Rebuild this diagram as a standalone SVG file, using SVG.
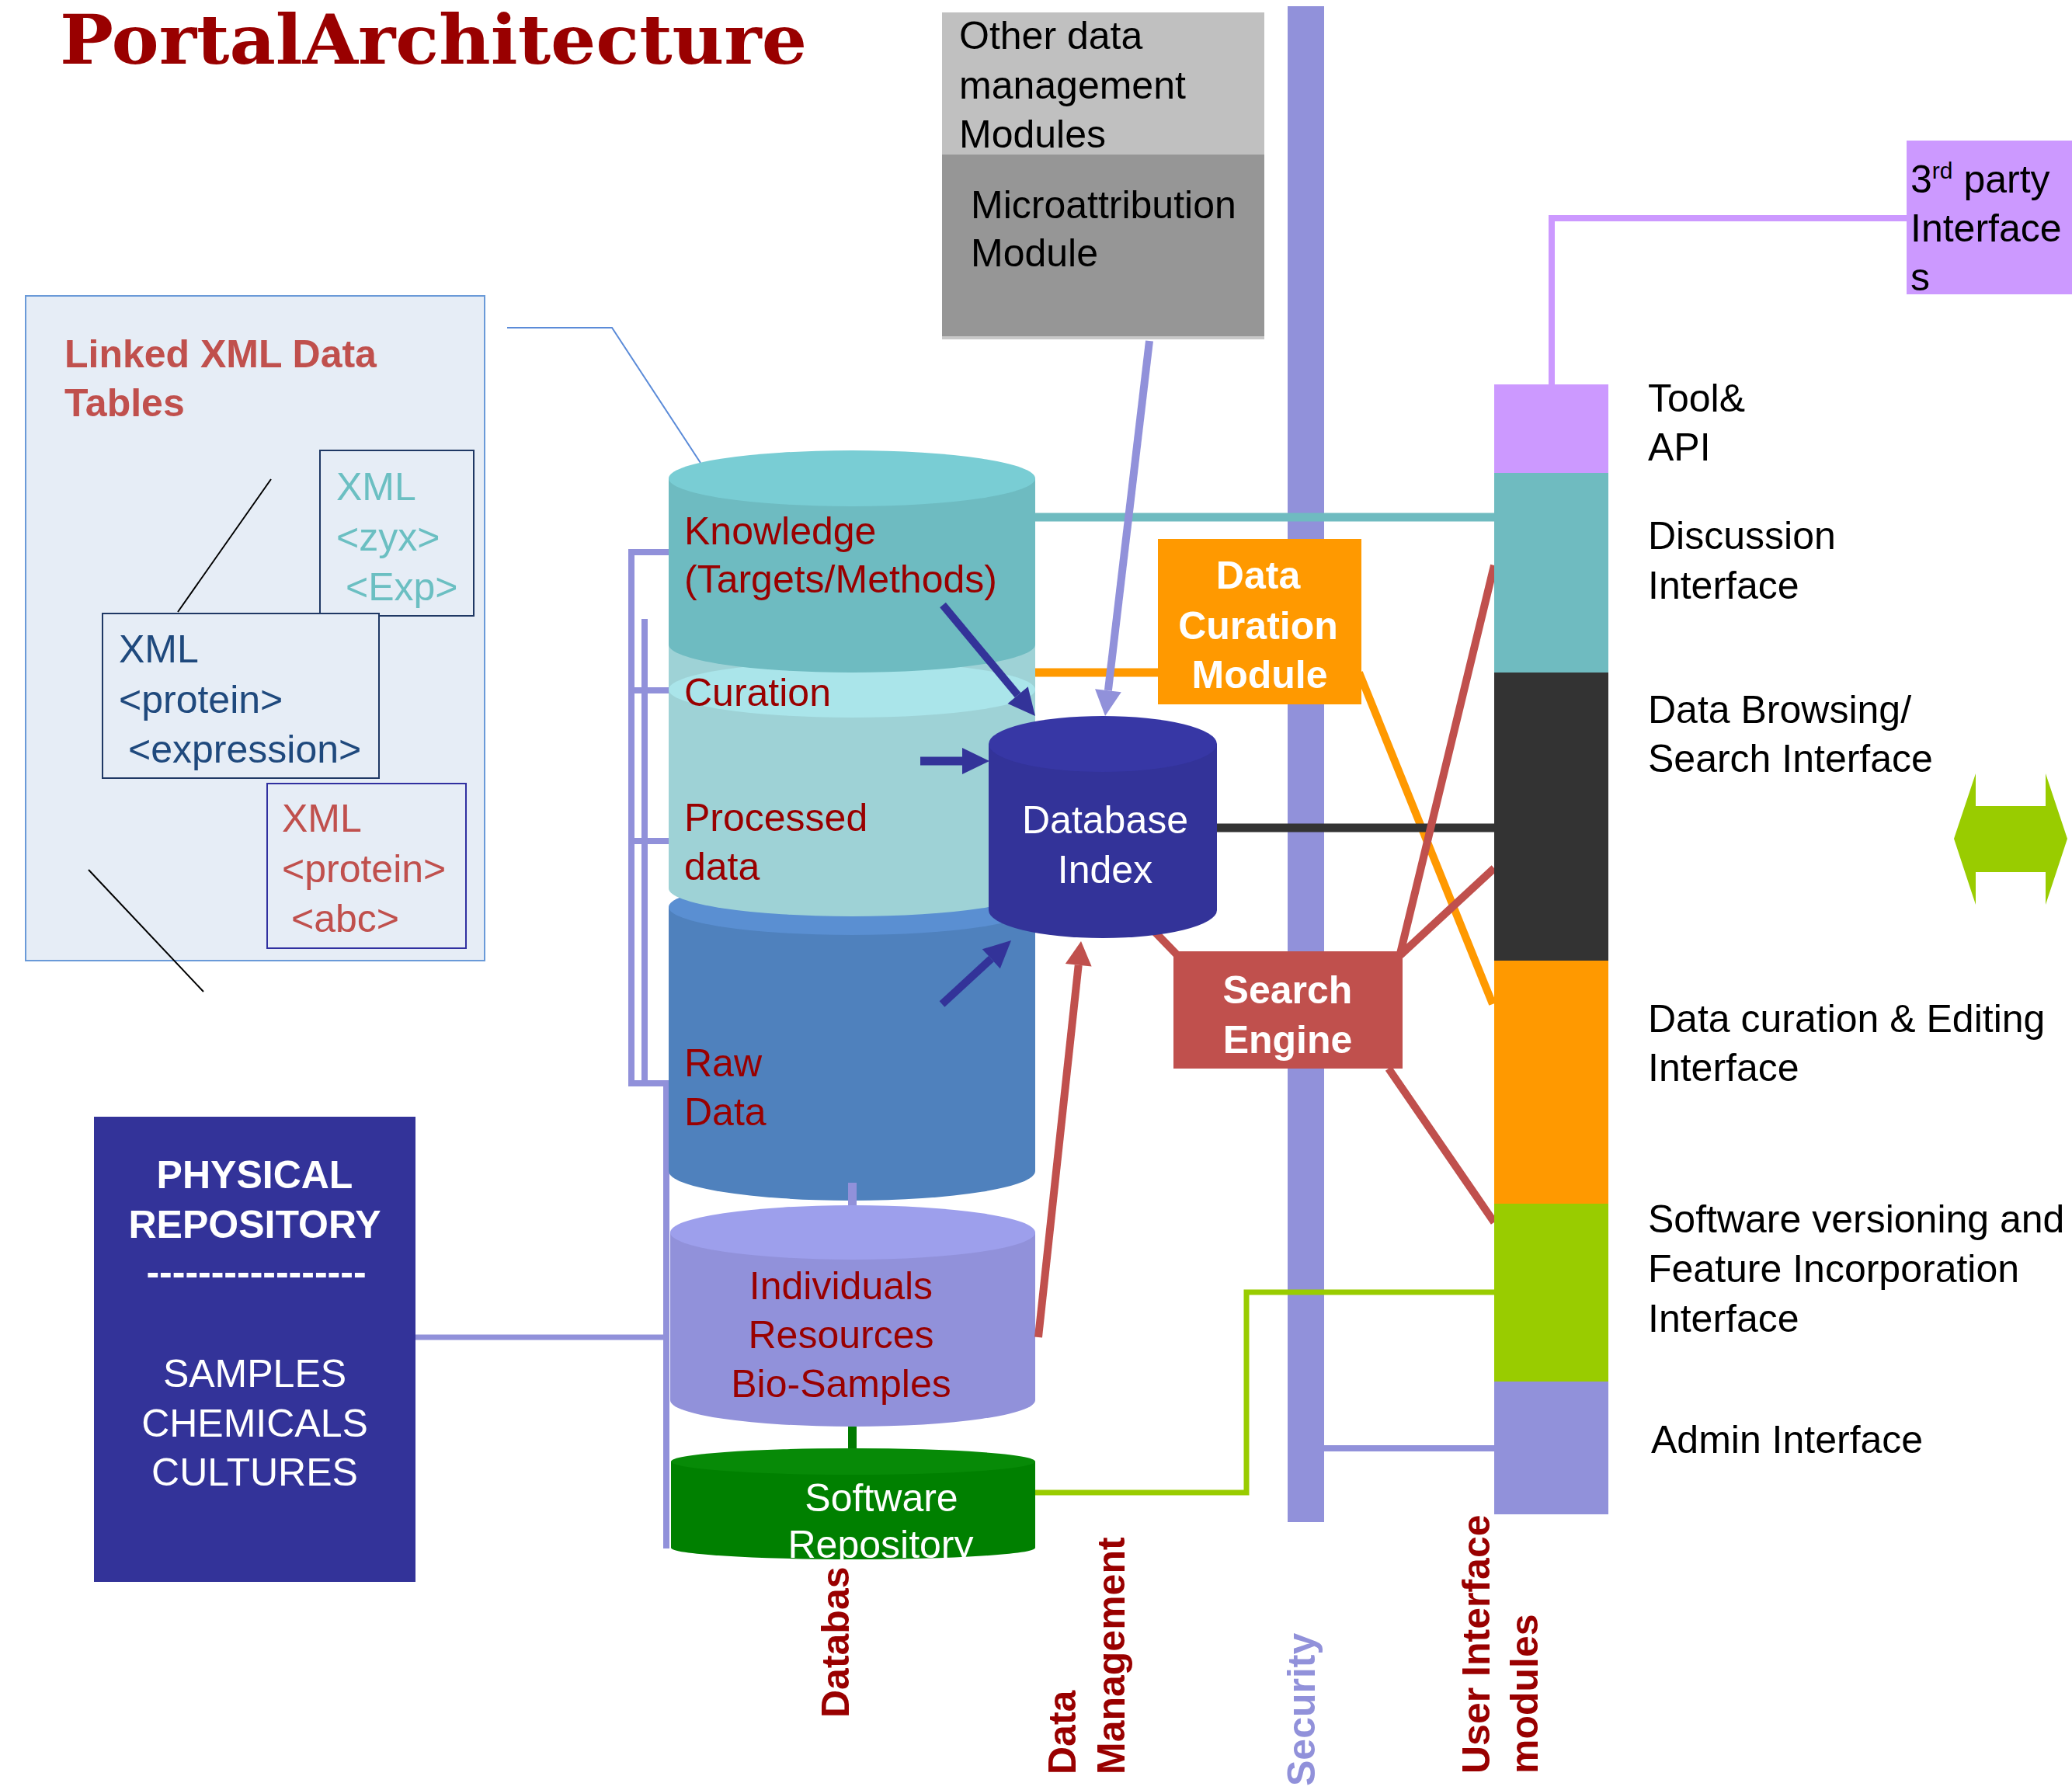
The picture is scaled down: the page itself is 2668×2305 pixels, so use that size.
<svg xmlns="http://www.w3.org/2000/svg" width="2668" height="2305" viewBox="0 0 2668 2305">
<style>
text{font-family:"Liberation Sans",Arial,sans-serif;font-size:50px}
.b{font-weight:bold}
.red{fill:#990000}
.wh{fill:#ffffff}
.blk{fill:#000000}
.mid{text-anchor:middle}
.lav{stroke:#9191DA;fill:none}
</style>
<defs>
<marker id="hNavy" markerUnits="userSpaceOnUse" markerWidth="40" markerHeight="40" refX="0" refY="0" orient="auto" overflow="visible"><path d="M0,-17 L35,0 L0,17 z" fill="#333399"/></marker>
<marker id="hLav" markerUnits="userSpaceOnUse" markerWidth="40" markerHeight="40" refX="0" refY="0" orient="auto" overflow="visible"><path d="M0,-17 L33,0 L0,17 z" fill="#9191DA"/></marker>
<marker id="hRed" markerUnits="userSpaceOnUse" markerWidth="40" markerHeight="40" refX="0" refY="0" orient="auto" overflow="visible"><path d="M0,-17 L31,0 L0,17 z" fill="#C0504D"/></marker>
</defs>
<rect width="2668" height="2305" fill="#ffffff"/>

<g id="title"><text x="77" y="82" style="font-family:'DejaVu Serif','Liberation Mono',serif;font-size:88px;font-weight:bold" fill="#990000" textLength="962" lengthAdjust="spacingAndGlyphs">PortalArchitecture</text></g>

<g id="security-bar"><rect x="1658" y="8" width="47" height="1952" fill="#9191DA"/></g>

<g id="connectors">
<path class="lav" stroke-width="8" d="M861,711 H813 V1395 H858 V1994"/>
<path class="lav" stroke-width="8" d="M830,797 V1395"/>
<path class="lav" stroke-width="8" d="M813,889 H861 M813,1083 H861"/>
<path class="lav" stroke-width="7" d="M535,1722 H860"/>
<path d="M653,422 H788 L902,596" stroke="#5B8BD8" stroke-width="2" fill="none"/>
<path d="M1333,666 H1924" stroke="#6FBBC0" stroke-width="11" fill="none"/>
<path d="M1333,866 H1491" stroke="#FF9900" stroke-width="11" fill="none"/>
<path d="M1750,866 L1922,1293" stroke="#FF9900" stroke-width="10" fill="none"/>
<path d="M1567,1066 H1924" stroke="#333333" stroke-width="11" fill="none"/>
<path d="M1998,495 V281 H2455" stroke="#CC99FF" stroke-width="8" fill="none"/>
<path d="M1333,1922 H1605 V1664 H1924" stroke="#99CC00" stroke-width="7" fill="none"/>
<path class="lav" stroke-width="8" d="M1705,1865 H1924"/>
<path d="M1487,1200 L1516,1230 M1803,1228 L1924,728 M1803,1230 L1924,1118 M1788,1376 L1924,1574" stroke="#C0504D" stroke-width="10" fill="none"/>
</g>

<g id="ui-column">
<rect x="1924" y="495" width="147" height="114" fill="#CC99FF"/>
<rect x="1924" y="609" width="147" height="257" fill="#6FBBC0"/>
<rect x="1924" y="866" width="147" height="371" fill="#333333"/>
<rect x="1924" y="1237" width="147" height="313" fill="#FF9900"/>
<rect x="1924" y="1550" width="147" height="229" fill="#99CC00"/>
<rect x="1924" y="1779" width="147" height="171" fill="#9191DA"/>
</g>

<g id="main-cylinder">
<path d="M861,1168 V1508 A236,38 0 0 0 1333,1508 V1168 Z" fill="#4F81BD"/>
<ellipse cx="1097" cy="1168" rx="236" ry="36" fill="#5A8FD2"/>
<path d="M861,830 V1144 A236,36 0 0 0 1333,1144 V830 Z" fill="#9ED2D6"/>
<ellipse cx="1097" cy="888" rx="236" ry="36" fill="#AAE5EA"/>
<path d="M861,616 V830 A236,36 0 0 0 1333,830 V616 Z" fill="#6EBBC1"/>
<ellipse cx="1097" cy="616" rx="236" ry="36" fill="#79CDD4"/>
<text class="red" x="881" y="701">Knowledge</text>
<text class="red" x="881" y="763">(Targets/Methods)</text>
<text class="red" x="881" y="909">Curation</text>
<text class="red" x="881" y="1070">Processed</text>
<text class="red" x="881" y="1133">data</text>
<text class="red" x="881" y="1386">Raw</text>
<text class="red" x="881" y="1449">Data</text>
</g>

<g id="individuals">
<rect x="1092" y="1523" width="11" height="60" fill="#9191DA"/>
<path d="M863,1587 V1803 A235,34 0 0 0 1333,1803 V1587 Z" fill="#9191DA"/>
<ellipse cx="1098" cy="1587" rx="235" ry="35" fill="#9D9FEC"/>
<text class="red mid" x="1083" y="1673">Individuals</text>
<text class="red mid" x="1083" y="1736">Resources</text>
<text class="red mid" x="1083" y="1799">Bio-Samples</text>
</g>

<g id="vlabel-database"><text class="red b" x="1093" y="2212" transform="rotate(-90 1093 2212)">Databas</text></g>

<g id="software-repo">
<rect x="1092" y="1837" width="11" height="50" fill="#007A00"/>
<path d="M864,1882 V1993 A234.5,15 0 0 0 1333,1993 V1882 Z" fill="#008000"/>
<ellipse cx="1098.5" cy="1882" rx="234.5" ry="17" fill="#078A07"/>
<text class="wh mid" x="1135" y="1946">Software</text>
<text class="wh mid" x="1134" y="2006">Repository</text>
</g>

<g id="db-index">
<path d="M1273,958 V1172 A147,36 0 0 0 1567,1172 V958 Z" fill="#333399"/>
<ellipse cx="1420" cy="958" rx="147" ry="36" fill="#3737A5"/>
<text class="wh mid" x="1423" y="1073">Database</text>
<text class="wh mid" x="1423" y="1137">Index</text>
</g>

<g id="arrows">
<line x1="1214" y1="779" x2="1310.6" y2="895.1" stroke="#333399" stroke-width="10" marker-end="url(#hNavy)"/>
<line x1="1185" y1="980" x2="1239" y2="980" stroke="#333399" stroke-width="11" marker-end="url(#hNavy)"/>
<line x1="1213" y1="1293" x2="1276.3" y2="1234.7" stroke="#333399" stroke-width="10" marker-end="url(#hNavy)"/>
<line x1="1480" y1="439" x2="1426.9" y2="889.2" stroke="#9191DA" stroke-width="10" marker-end="url(#hLav)"/>
<line x1="1337" y1="1722" x2="1388.7" y2="1242.8" stroke="#C0504D" stroke-width="10" marker-end="url(#hRed)"/>
</g>

<g id="other-modules">
<rect x="1213" y="16" width="415" height="421" fill="#C8C8C8"/>
<rect x="1213" y="16" width="415" height="183" fill="#C0C0C0"/>
<rect x="1213" y="199" width="415" height="234" fill="#969696"/>
<text class="blk" x="1235" y="63">Other data</text>
<text class="blk" x="1235" y="127">management</text>
<text class="blk" x="1235" y="190">Modules</text>
<text class="blk" x="1250" y="281">Microattribution</text>
<text class="blk" x="1250" y="343">Module</text>
</g>

<g id="data-curation-module">
<rect x="1491" y="694" width="262" height="213" fill="#FF9900"/>
<text class="wh b mid" x="1620" y="758">Data</text>
<text class="wh b mid" x="1620" y="823">Curation</text>
<text class="wh b mid" x="1622" y="886">Module</text>
</g>

<g id="search-engine">
<rect x="1511" y="1225" width="295" height="151" fill="#C0504D"/>
<text class="wh b mid" x="1658" y="1292">Search</text>
<text class="wh b mid" x="1658" y="1356">Engine</text>
</g>

<g id="third-party">
<rect x="2455" y="181" width="213" height="198" fill="#CC99FF"/>
<text class="blk" x="2460" y="248">3<tspan style="font-size:30px" dy="-18">rd</tspan><tspan dy="18"> party</tspan></text>
<text class="blk" x="2460" y="311">Interface</text>
<text class="blk" x="2460" y="374">s</text>
</g>

<g id="ui-labels">
<text class="blk" x="2122" y="530">Tool&amp;</text>
<text class="blk" x="2122" y="593">API</text>
<text class="blk" x="2122" y="707">Discussion</text>
<text class="blk" x="2122" y="771">Interface</text>
<text class="blk" x="2122" y="931">Data Browsing/</text>
<text class="blk" x="2122" y="994">Search Interface</text>
<text class="blk" x="2122" y="1329">Data curation &amp; Editing</text>
<text class="blk" x="2122" y="1392">Interface</text>
<text class="blk" x="2122" y="1587">Software versioning and</text>
<text class="blk" x="2122" y="1651">Feature Incorporation</text>
<text class="blk" x="2122" y="1715">Interface</text>
<text class="blk" x="2126" y="1871">Admin Interface</text>
</g>

<g id="double-arrow"><polygon points="2516,1080 2544,996 2544,1038 2634,1038 2634,996 2662,1080 2634,1165 2634,1123 2544,1123 2544,1165" fill="#99CC00"/></g>

<g id="xml-panel">
<rect x="33" y="381" width="591" height="856" fill="#E6EDF6" stroke="#6A9AD8" stroke-width="2"/>
<text class="b" x="83" y="473" fill="#C0504D">Linked XML Data</text>
<text class="b" x="83" y="536" fill="#C0504D">Tables</text>
</g>
<g id="xml-box-1">
<rect x="412" y="580" width="198" height="213" fill="#E6EDF6" stroke="#1F3864" stroke-width="2"/>
<text x="433" y="644" fill="#6BBFC2">XML</text>
<text x="433" y="709" fill="#6BBFC2">&lt;zyx&gt;</text>
<text x="445" y="773" fill="#6BBFC2">&lt;Exp&gt;</text>
</g>
<g id="xml-box-2">
<rect x="132" y="790" width="356" height="212" fill="#E6EDF6" stroke="#1F3864" stroke-width="2"/>
<text x="153" y="853" fill="#1F497D">XML</text>
<text x="153" y="918" fill="#1F497D">&lt;protein&gt;</text>
<text x="165" y="982" fill="#1F497D">&lt;expression&gt;</text>
</g>
<g id="xml-box-3">
<rect x="344" y="1009" width="256" height="212" fill="#E6EDF6" stroke="#3030A0" stroke-width="2"/>
<text x="363" y="1071" fill="#C0504D">XML</text>
<text x="363" y="1136" fill="#C0504D">&lt;protein&gt;</text>
<text x="375" y="1200" fill="#C0504D">&lt;abc&gt;</text>
</g>
<g id="xml-lines"><path d="M349,617 L229,788 M114,1120 L262,1277" stroke="#000000" stroke-width="2" fill="none"/></g>

<g id="physical-repository">
<rect x="121" y="1438" width="414" height="599" fill="#333399"/>
<text class="wh b mid" x="328" y="1530">PHYSICAL</text>
<text class="wh b mid" x="328" y="1594">REPOSITORY</text>
<text class="wh b mid" x="330" y="1655">-----------------</text>
<text class="wh mid" x="328" y="1786">SAMPLES</text>
<text class="wh mid" x="328" y="1850">CHEMICALS</text>
<text class="wh mid" x="328" y="1913">CULTURES</text>
</g>

<g id="vlabels">
<text class="red b" x="1385" y="2285" transform="rotate(-90 1385 2285)">Data</text>
<text class="red b" x="1448" y="2285" transform="rotate(-90 1448 2285)">Management</text>
<text class="b" fill="#9191DA" x="1693" y="2300" transform="rotate(-90 1693 2300)">Security</text>
<text class="red b" x="1918" y="2284" transform="rotate(-90 1918 2284)">User Interface</text>
<text class="red b" x="1980" y="2284" transform="rotate(-90 1980 2284)">modules</text>
</g>
</svg>
